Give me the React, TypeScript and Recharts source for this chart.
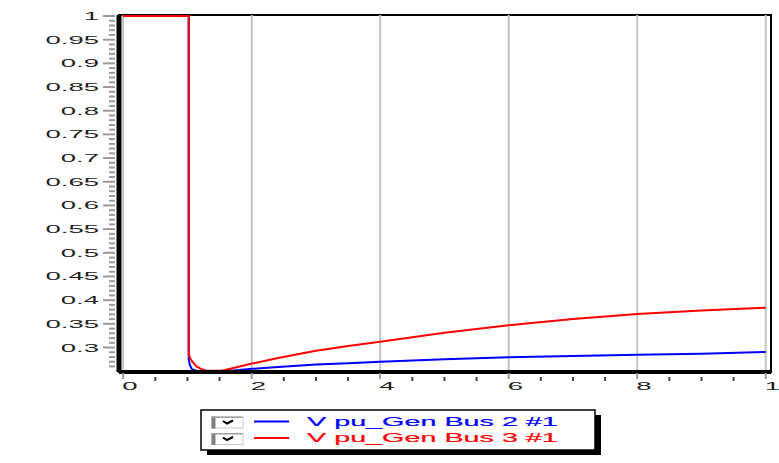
import React from 'react';
import { LineChart, Line, XAxis, YAxis, ReferenceLine, ReferenceArea, Legend } from 'recharts';

// time (s)
const TIME = [0, 1.02, 1.02, 1.04, 1.07, 1.14, 1.24, 1.3, 1.53, 1.75, 1.97, 2.41, 3, 3.5, 4, 5, 6, 7, 8, 9, 10];
// V pu_Gen Bus 2 #1
const BUS2 = [1, 1, 0.275, 0.262, 0.254, 0.251, 0.2505, 0.2505, 0.2505, 0.252, 0.2545, 0.259, 0.264, 0.267, 0.27, 0.275, 0.2795, 0.282, 0.2845, 0.287, 0.2905];
// V pu_Gen Bus 3 #1
const BUS3 = [1, 1, 0.285, 0.278, 0.271, 0.26, 0.253, 0.251, 0.251, 0.258, 0.265, 0.278, 0.293, 0.303, 0.312, 0.331, 0.347, 0.36, 0.371, 0.378, 0.384];

const SERIES_NAMES = ['V pu_Gen Bus 2 #1', 'V pu_Gen Bus 3 #1'];
const SERIES_COLORS = ['#0000ff', '#ff0000'];

const X_LABELS = [0, 2, 4, 6, 8, 10];
const Y_LABELS = [0.3, 0.35, 0.4, 0.45, 0.5, 0.55, 0.6, 0.65, 0.7, 0.75, 0.8, 0.85, 0.9, 0.95, 1];
const Y_LOW_MINOR = [0.26, 0.27, 0.28, 0.29];

const X_MIN = -0.065;
const X_MAX = 10.082;
const Y_MIN = 0.2483;
const Y_MAX = 1.0021;

const data = TIME.map((t, i) => ({ t, bus2: BUS2[i], bus3: BUS3[i] }));

const X_MINOR = X_LABELS.slice(0, -1).flatMap((v) => [v + 0.5, v + 1, v + 1.5]);
const X_TICKS = [...X_LABELS, ...X_MINOR].sort((a, b) => a - b);
const Y_MINOR = Y_LABELS.slice(0, -1).flatMap((v) => [1, 2, 3, 4].map((k) => Math.round((v + k * 0.01) * 100) / 100));
const Y_TICKS = [...Y_LOW_MINOR, ...Y_LABELS, ...Y_MINOR].sort((a, b) => a - b);
const Y_MAJOR_SET = new Set(Y_LABELS);
const X_MAJOR_SET = new Set(X_LABELS);

const FONT = '"Liberation Sans", Arial, sans-serif';

const YTick = (props: any) => {
  const { x, y, payload } = props;
  const v = payload.value;
  const major = Y_MAJOR_SET.has(v);
  return (
    <g>
      <line x1={major ? x - 16 : x - 10} x2={x - 4} y1={y} y2={y} stroke="#9a9a9a" strokeWidth={2} />
      {major && (
        <text
          transform={`translate(${x - 20},${y + 4}) scale(2.5,1)`}
          textAnchor="end"
          fontSize={11}
          fontFamily={FONT}
          fill="#222"
        >
          {String(v)}
        </text>
      )}
    </g>
  );
};

const XTick = (props: any) => {
  const { x, y, payload } = props;
  const v = payload.value;
  const major = X_MAJOR_SET.has(v);
  return (
    <g>
      {major ? (
        <line x1={x} x2={x} y1={y + 1} y2={y + 7} stroke="#9a9a9a" strokeWidth={2} />
      ) : (
        <line x1={x} x2={x} y1={y + 5} y2={y + 9} stroke="#444" strokeWidth={2} />
      )}
      {major && (
        <text
          transform={`translate(${x - 1},${y + 18}) scale(2.5,1)`}
          textAnchor="start"
          fontSize={11}
          fontFamily={FONT}
          fill="#222"
        >
          {String(v)}
        </text>
      )}
    </g>
  );
};

const LegendBox = (props: any) => {
  const payload = props.payload || [];
  return (
    <svg width={410} height={50} style={{ display: 'block' }}>
      <rect x={7} y={6} width={394} height={40} fill="#000" />
      <rect x={1} y={1} width={394} height={40} fill="#fff" stroke="#000" strokeWidth={1.5} />
      {payload.map((entry: any, i: number) => {
        const top = 8 + i * 16.5;
        const cy = top + 4.5;
        return (
          <g key={i}>
            <rect x={12} y={top} width={31} height={11} fill="#fff" stroke="#c8c8c8" strokeWidth={1} />
            <rect x={11.5} y={top - 0.5} width={4} height={12} fill="#808080" />
            <rect x={11.5} y={top - 0.5} width={31} height={1.5} fill="#a0a0a0" />
            <path d={`M23 ${top + 4} L27 ${top + 6.5} L33 ${top + 3.5}`} stroke="#000" strokeWidth={2} fill="none" />
            <line x1={54} x2={89} y1={cy} y2={cy} stroke={entry.color} strokeWidth={2} />
            <text
              transform={`translate(107,${top + 8.5}) scale(2.3,1)`}
              fontSize={12.5}
              fontFamily={FONT}
              fill={entry.color}
              stroke={entry.color}
              strokeWidth={0.2}
            >
              {entry.value}
            </text>
          </g>
        );
      })}
    </svg>
  );
};

export default function App() {
  return (
    <div style={{ position: 'absolute', left: 0, top: 0, width: 779, height: 463, background: '#fff' }}>
      <LineChart width={779} height={463} data={data} margin={{ top: 15, right: 8, bottom: 0, left: 0 }}>
        <XAxis
          dataKey="t"
          type="number"
          domain={[X_MIN, X_MAX]}
          allowDataOverflow
          ticks={X_TICKS}
          interval={0}
          height={91}
          tickSize={0}
          tickMargin={0}
          tickLine={false}
          axisLine={{ stroke: '#000', strokeWidth: 4 }}
          tick={<XTick />}
        />
        <YAxis
          type="number"
          domain={[Y_MIN, Y_MAX]}
          allowDataOverflow
          ticks={Y_TICKS}
          interval={0}
          width={119}
          tickSize={0}
          tickMargin={0}
          tickLine={false}
          axisLine={{ stroke: '#000', strokeWidth: 5 }}
          tick={<YTick />}
        />
        <ReferenceArea x1={X_MIN} x2={X_MAX} y1={Y_MIN} y2={Y_MAX} fill="#fff" fillOpacity={0} stroke="#000" strokeWidth={2} />
        {X_LABELS.map((v) => (
          <ReferenceLine key={v} x={v} stroke="#c4c4c4" strokeWidth={2} />
        ))}
        <Line
          type="linear"
          dataKey="bus2"
          name={SERIES_NAMES[0]}
          stroke={SERIES_COLORS[0]}
          strokeWidth={2}
          dot={false}
          isAnimationActive={false}
        />
        <Line
          type="linear"
          dataKey="bus3"
          name={SERIES_NAMES[1]}
          stroke={SERIES_COLORS[1]}
          strokeWidth={2}
          dot={false}
          isAnimationActive={false}
        />
        <Legend
          layout="vertical"
          align="center"
          verticalAlign="middle"
          wrapperStyle={{ position: 'absolute', left: 200, top: 409, width: 410, height: 50 }}
          content={(p: any) => <LegendBox payload={p.payload} />}
        />
      </LineChart>
    </div>
  );
}
